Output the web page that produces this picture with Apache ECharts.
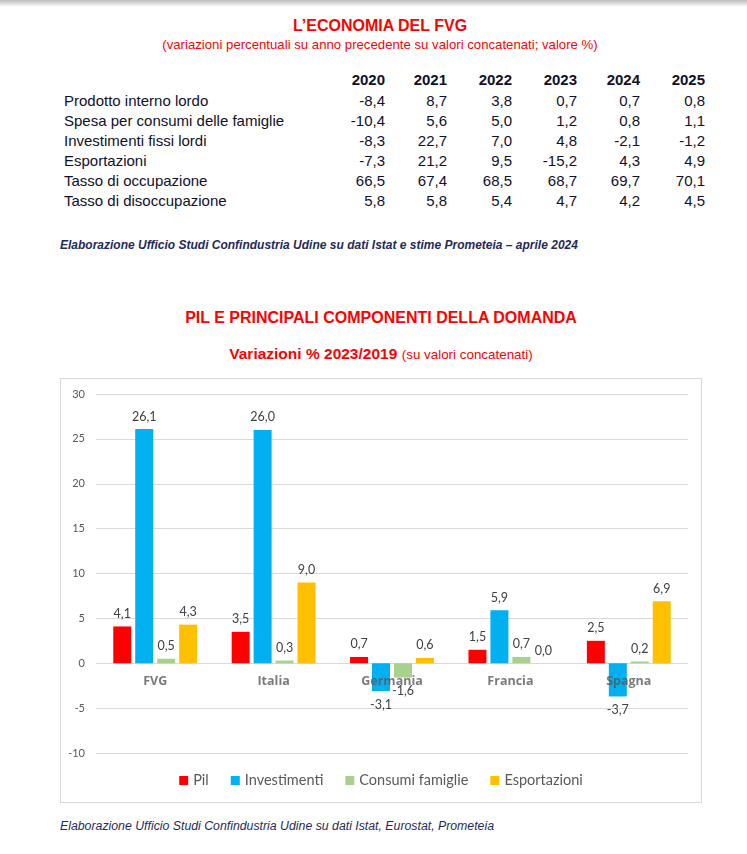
<!DOCTYPE html>
<html><head><meta charset="utf-8">
<script src="https://cdn.jsdelivr.net/npm/echarts/dist/echarts.min.js"></script>
<style>
html,body{margin:0;padding:0;background:#fff;}
body{width:747px;height:854px;position:relative;overflow:hidden;font-family:"Liberation Sans",Arial,sans-serif;}
.t{position:absolute;white-space:nowrap;}
#shadow{position:absolute;left:0;top:0;width:747px;height:7px;background:linear-gradient(#bdbdbd,#ffffff);}
#box{position:absolute;left:60px;top:378px;width:640px;height:423px;border:1px solid #d9d9d9;}
#chart{position:absolute;left:0;top:0;width:640px;height:423px;}
</style></head><body>
<div id="shadow"></div>
<div id="page"></div>
<div id="box"><div id="chart"></div></div>
<script>
// ---- table data ----
const tableYears = ['2020', '2021', '2022', '2023', '2024', '2025'];
const tableLabels = ['Prodotto interno lordo', 'Spesa per consumi delle famiglie', 'Investimenti fissi lordi', 'Esportazioni', 'Tasso di occupazione', 'Tasso di disoccupazione'];
const rowPil = [-8.4, 8.7, 3.8, 0.7, 0.7, 0.8];
const rowSpesa = [-10.4, 5.6, 5.0, 1.2, 0.8, 1.1];
const rowInvestimenti = [-8.3, 22.7, 7.0, 4.8, -2.1, -1.2];
const rowEsportazioni = [-7.3, 21.2, 9.5, -15.2, 4.3, 4.9];
const rowOccupazione = [66.5, 67.4, 68.5, 68.7, 69.7, 70.1];
const rowDisoccupazione = [5.8, 5.8, 5.4, 4.7, 4.2, 4.5];

// ---- chart data ----
const categories = ['FVG', 'Italia', 'Germania', 'Francia', 'Spagna'];
const seriesNames = ['Pil', 'Investimenti', 'Consumi famiglie', 'Esportazioni'];
const pil = [4.1, 3.5, 0.7, 1.5, 2.5];
const investimenti = [26.1, 26.0, -3.1, 5.9, -3.7];
const consumi = [0.5, 0.3, -1.6, 0.7, 0.2];
const esportazioni = [4.3, 9.0, 0.6, 0.0, 6.9];
const yTicks = [-10, -5, 0, 5, 10, 15, 20, 25, 30];

const fmt = v => v.toFixed(1).replace('.', ',');
const page = document.getElementById('page');
function txt(html, x, cy, style, align, lh) {
  lh = lh || 20;
  const d = document.createElement('div');
  d.className = 't';
  d.innerHTML = html;
  d.style.cssText += style;
  d.style.top = (cy - lh / 2) + 'px';
  d.style.lineHeight = lh + 'px';
  if (align === 'right') { d.style.right = (747 - x) + 'px'; d.style.textAlign = 'right'; }
  else if (align === 'center') { d.style.left = '0px'; d.style.width = (2 * x) + 'px'; d.style.textAlign = 'center'; }
  else d.style.left = x + 'px';
  page.appendChild(d);
}
const RED = '#ff0000', INK = '#10102a', NAVY = '#1f2a5a';
txt("L’ECONOMIA DEL FVG", 380, 26, 'color:' + RED + ';font-weight:bold;font-size:16px;', 'center');
txt('(variazioni percentuali su anno precedente su valori concatenati; valore %)', 380, 45, 'color:' + RED + ';font-size:13.2px;', 'center');

const colRight = [385, 447, 512, 577, 640, 705];
tableYears.forEach((y, j) => txt(y, colRight[j], 80, 'color:' + INK + ';font-weight:bold;font-size:15px;', 'right'));
const rows = [rowPil, rowSpesa, rowInvestimenti, rowEsportazioni, rowOccupazione, rowDisoccupazione];
rows.forEach((r, i) => {
  const cy = 101 + 20 * i;
  txt(tableLabels[i], 64, cy, 'color:' + INK + ';font-size:15px;');
  r.forEach((v, j) => txt(fmt(v), colRight[j], cy, 'color:' + INK + ';font-size:15px;', 'right'));
});
txt('Elaborazione Ufficio Studi Confindustria Udine su dati Istat e stime Prometeia – aprile 2024', 60, 245, 'color:' + NAVY + ';font-weight:bold;font-style:italic;font-size:12px;');

txt('PIL E PRINCIPALI COMPONENTI DELLA DOMANDA', 381, 318, 'color:' + RED + ';font-weight:bold;font-size:16px;', 'center');
txt('<b style="font-size:15.5px">Variazioni % 2023/2019</b> <span style="font-size:13.4px">(su valori concatenati)</span>', 381, 354, 'color:' + RED + ';', 'center');
txt('Elaborazione Ufficio Studi Confindustria Udine su dati Istat, Eurostat, Prometeia', 60, 826, 'color:' + NAVY + ';font-style:italic;font-size:12.3px;');

// ---- chart ----
const colors = ['#ff0000', '#00b0f0', '#a9d18e', '#ffc000'];
const F = 'Lato, "Open Sans", sans-serif';
const FB = '"Open Sans", Lato, sans-serif';
const chart = echarts.init(document.getElementById('chart'), null, { renderer: 'canvas' });
const mk = arr => arr.map(v => v < 0 ? { value: v, label: { position: 'bottom', distance: 7 } } : v);
const allSeries = [pil, investimenti, consumi, esportazioni];
const barSeries = allSeries.map((arr, i) => ({
  name: seriesNames[i], type: 'bar', data: mk(arr), barWidth: 18, barGap: '22%', z: 2,
  label: { show: true, position: 'top', distance: 6, fontFamily: F, fontSize: 12.5, color: '#404040', formatter: p => fmt(p.value) }
}));
// category labels drawn at the zero line (as in the reference)
const catLabelSeries = {
  name: 'cat', type: 'scatter', silent: true, symbolSize: 0, z: 5,
  data: categories.map(c => [c, 0]),
  label: { show: true, position: 'bottom', distance: 12, fontFamily: FB, fontWeight: 'bold', fontSize: 12.5, color: '#595959', formatter: p => p.value[0] }
};
chart.setOption({
  animation: false,
  textStyle: { fontFamily: F },
  color: colors,
  grid: { left: 35, top: 15, width: 592, height: 359, containLabel: false },
  legend: {
    data: seriesNames, bottom: 9, left: 'center', itemWidth: 9, itemHeight: 9, itemGap: 22,
    icon: 'rect', textStyle: { fontFamily: F, fontSize: 14.5, color: '#595959' }
  },
  xAxis: {
    type: 'category', data: categories,
    axisLine: { show: false }, axisTick: { show: false },
    axisLabel: { show: false }
  },
  yAxis: {
    type: 'value', min: yTicks[0], max: yTicks[yTicks.length - 1], interval: 5,
    axisLine: { show: false }, axisTick: { show: false },
    splitLine: { lineStyle: { color: '#d9d9d9' } },
    axisLabel: { fontFamily: F, fontSize: 11, color: '#595959', margin: 11 }
  },
  series: barSeries.concat([catLabelSeries])
});
</script>
</body></html>
